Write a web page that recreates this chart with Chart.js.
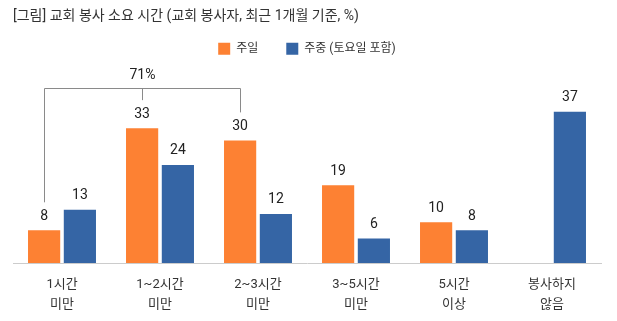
<!DOCTYPE html>
<html><head><meta charset="utf-8">
<script src="https://cdn.jsdelivr.net/npm/chart.js@4"></script>
<style>html,body{margin:0;padding:0;background:#fff}#wrap{width:617px;height:321px}</style>
</head><body><div id="wrap"><canvas id="c"></canvas></div>
<script>
const categories = [["1시간","미만"],["1~2시간","미만"],["2~3시간","미만"],["3~5시간","미만"],["5시간","이상"],["봉사하지","않음"]];
const sundayValues = [8, 33, 30, 19, 10, null];
const weekdayValues = [13, 24, 12, 6, 8, 37];
const seriesNames = ["주일", "주중 (토요일 포함)"];
const bracketLabel = "71%";
const bracketIndices = [0, 1, 2];

const FONT = "Roboto, 'Noto Sans CJK KR', sans-serif";

const labelPlugin = {
  id: 'vals',
  afterDatasetsDraw(chart) {
    const ctx = chart.ctx;
    ctx.save();
    ctx.font = "14px " + FONT;
    ctx.fillStyle = "#222";
    ctx.textAlign = "center";
    ctx.textBaseline = "middle";
    chart.data.datasets.forEach((ds, di) => {
      const meta = chart.getDatasetMeta(di);
      meta.data.forEach((bar, i) => {
        if (ds.data[i] == null) return;
        ctx.fillText(String(ds.data[i]), bar.x, bar.y - 14);
      });
    });
    // bracket
    const meta = chart.getDatasetMeta(0);
    const pts = bracketIndices.map(i => meta.data[i]);
    const topY = 88.5;
    ctx.strokeStyle = "#8a8a8a";
    ctx.lineWidth = 1;
    ctx.beginPath();
    const xl = Math.round(pts[0].x) + 0.5, xm = Math.round(pts[1].x) + 0.5, xr = Math.round(pts[2].x) + 0.5;
    ctx.moveTo(xl, pts[0].y - 28);
    ctx.lineTo(xl, topY);
    ctx.lineTo(xr, topY);
    ctx.lineTo(xr, pts[2].y - 28);
    ctx.moveTo(xm, topY);
    ctx.lineTo(xm, pts[1].y - 28);
    ctx.stroke();
    ctx.fillStyle = "#222";
    ctx.fillText(bracketLabel, xm, 75);
    ctx.restore();
  }
};

new Chart(document.getElementById('c'), {
  type: 'bar',
  data: {
    labels: categories,
    datasets: [
      { label: seriesNames[0], data: sundayValues, backgroundColor: '#FD8133' },
      { label: seriesNames[1], data: weekdayValues, backgroundColor: '#3565A5' }
    ]
  },
  options: {
    responsive: true,
    maintainAspectRatio: false,
    animation: false,
    events: [],
    layout: { padding: { left: 13, right: 16, top: 0, bottom: 3 } },
    datasets: { bar: { categoryPercentage: 0.73, barPercentage: 0.9 } },
    plugins: {
      title: {
        display: true, text: "[그림] 교회 봉사 소요 시간 (교회 봉사자, 최근 1개월 기준, %)",
        align: 'start', color: '#333', font: { family: FONT, size: 14, weight: 'normal' },
        padding: { top: 8, bottom: -10 }
      },
      legend: {
        display: true,
        labels: { boxWidth: 12, boxHeight: 12, color: '#333', font: { family: FONT, size: 12 }, padding: 28 }
      },
      tooltip: { enabled: false }
    },
    scales: {
      x: {
        grid: { display: false },
        border: { display: true, color: '#cccccc' },
        ticks: { color: '#333', font: { family: FONT, size: 13, lineHeight: 1.5 }, maxRotation: 0, padding: 4 }
      },
      y: { display: false, min: 0, max: 48.5 }
    }
  },
  plugins: [labelPlugin]
});
</script></body></html>
